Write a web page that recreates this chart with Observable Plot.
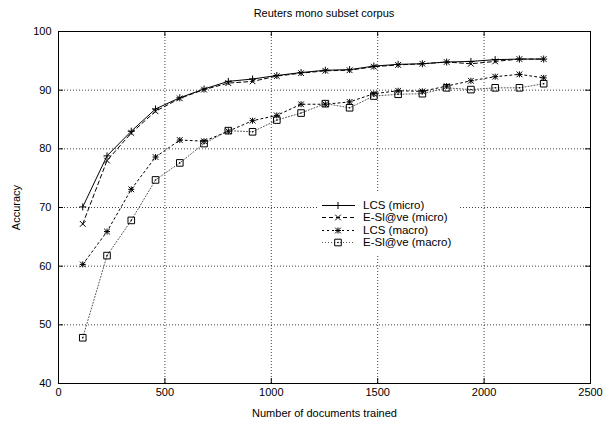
<!DOCTYPE html>
<html><head><meta charset="utf-8">
<script src="https://cdn.jsdelivr.net/npm/d3@7"></script>
<script src="https://cdn.jsdelivr.net/npm/@observablehq/plot@0.6"></script>
<style>
body{margin:0;background:#fff;font-family:"Liberation Sans",Arial,sans-serif;}
#wrap{position:relative;width:603px;height:421px;overflow:hidden;}
#title{position:absolute;left:58px;width:532px;top:7px;text-align:center;font-size:11px;line-height:13px;color:#000;}
#chart{position:absolute;left:0;top:22px;}
#legend{position:absolute;left:318px;top:192px;width:142px;height:64px;background:#fff;font-size:11.5px;color:#000;}
.row{position:absolute;left:0;width:142px;height:13px;}
.row svg{position:absolute;left:0;top:0;}
.row span{position:absolute;left:45px;top:0;line-height:13px;white-space:nowrap;}
</style></head><body>
<div id="wrap"><div id="title">Reuters mono subset corpus</div><div id="chart"></div><div id="legend"></div></div>
<script>
// ---- data ----
const docs = [114,228,342,456,570,684,798,912,1026,1140,1254,1368,1482,1596,1710,1824,1938,2052,2166,2280];
const lcsMicro = [70.1,78.8,83.0,86.8,88.7,90.2,91.5,91.9,92.5,93.0,93.4,93.5,94.1,94.4,94.5,94.8,94.9,95.2,95.3,95.3];
const eslaveMicro = [67.2,78.0,82.7,86.4,88.6,90.1,91.2,91.5,92.4,92.9,93.3,93.4,94.0,94.3,94.5,94.8,94.5,94.9,95.3,95.3];
const lcsMacro = [60.3,65.9,73.1,78.6,81.5,81.3,83.0,84.8,85.7,87.6,87.6,88.0,89.4,89.9,89.8,90.7,91.6,92.3,92.7,92.1];
const eslaveMacro = [47.8,61.8,67.8,74.7,77.6,80.9,83.1,82.9,84.9,86.1,87.7,87.0,89.0,89.3,89.4,90.4,90.1,90.4,90.4,91.1];
const seriesNames = ["LCS (micro)","E-Sl@ve (micro)","LCS (macro)","E-Sl@ve (macro)"];
const xTicks = [0,500,1000,1500,2000,2500];
const yTicks = [40,50,60,70,80,90,100];
const xLabel = "Number of documents trained";
const yLabel = "Accuracy";

// ---- styles ----
const styles = [
  {dash: null, stroke: "#000", syms: [["plus", 2.4]]},
  {dash: "4,3", stroke: "#000", syms: [["times", 2.7]]},
  {dash: "2,3", stroke: "#000", syms: [["plus", 2.1], ["times", 2.7]]},
  {dash: "1,2", stroke: "#555", syms: [["square2", 4.2]], centerDot: true}
];
const valuesList = [lcsMicro, eslaveMicro, lcsMacro, eslaveMacro];

const W = 603, H = 399, mL = 58, mR = 13, mT = 9, mB = 38;
const pw = W - mL - mR, ph = H - mT - mB;

const marks = [
  Plot.gridX(xTicks, {stroke: "#000", strokeOpacity: 0.75, strokeDasharray: "1,2"}),
  Plot.gridY(yTicks, {stroke: "#000", strokeOpacity: 0.75, strokeDasharray: "1,2"}),
  Plot.tickX(xTicks, {x: d => d, insetTop: ph - 5, stroke: "#000"}),
  Plot.tickX(xTicks, {x: d => d, insetBottom: ph - 5, stroke: "#000"}),
  Plot.tickY(yTicks, {y: d => d, insetRight: pw - 5, stroke: "#000"}),
  Plot.tickY(yTicks, {y: d => d, insetLeft: pw - 5, stroke: "#000"}),
  Plot.frame({stroke: "#000", strokeWidth: 1})
];
valuesList.forEach((vals, k) => {
  const st = styles[k];
  const data = docs.map((x, i) => ({x, y: vals[i]}));
  marks.push(Plot.line(data, {x: "x", y: "y", stroke: st.stroke, strokeWidth: 1, strokeDasharray: st.dash}));
  st.syms.forEach(([sym, r]) => marks.push(Plot.dot(data, {x: "x", y: "y", symbol: sym, r, stroke: "#000", strokeWidth: 1})));
  if (st.centerDot) marks.push(Plot.dot(data, {x: "x", y: "y", r: 0.8, fill: "#000", stroke: null}));
});
marks.push(
  Plot.axisX(xTicks, {tickSize: 0, tickPadding: 5, tickFormat: d => String(d), label: xLabel, labelAnchor: "center", labelArrow: "none", labelOffset: 33}),
  Plot.axisY(yTicks, {tickSize: 0, tickPadding: 7, tickFormat: d => String(d), label: yLabel, labelAnchor: "center", labelArrow: "none", labelOffset: 46})
);

const chart = Plot.plot({
  width: W, height: H,
  marginLeft: mL, marginRight: mR, marginTop: mT, marginBottom: mB,
  style: {fontFamily: "'Liberation Sans', Arial, sans-serif", fontSize: "11px", color: "#000", background: "#fff"},
  x: {domain: [0, 2500]},
  y: {domain: [40, 100]},
  marks
});
document.getElementById("chart").appendChild(chart);

// ---- legend ----
const symMap = {plus: d3.symbolPlus, times: d3.symbolTimes, square2: d3.symbolSquare2};
const leg = document.getElementById("legend");
const rowCenters = [13, 25.5, 38, 50.5];
seriesNames.forEach((name, k) => {
  const st = styles[k];
  const row = document.createElement("div");
  row.className = "row";
  row.style.top = (rowCenters[k] - 6.5) + "px";
  let paths = st.syms.map(([s, r]) => `<path d="${d3.symbol(symMap[s], Math.PI * r * r)()}" transform="translate(20,6.5)" fill="none" stroke="#000"/>`).join("");
  if (st.centerDot) paths += `<circle cx="20" cy="6.5" r="0.8" fill="#000"/>`;
  row.innerHTML = `<svg width="40" height="13"><line x1="4" x2="37" y1="6.5" y2="6.5" stroke="${st.stroke}" ${st.dash ? `stroke-dasharray="${st.dash}"` : ""}/>${paths}</svg><span>${name}</span>`;
  leg.appendChild(row);
});
</script>
</body></html>
